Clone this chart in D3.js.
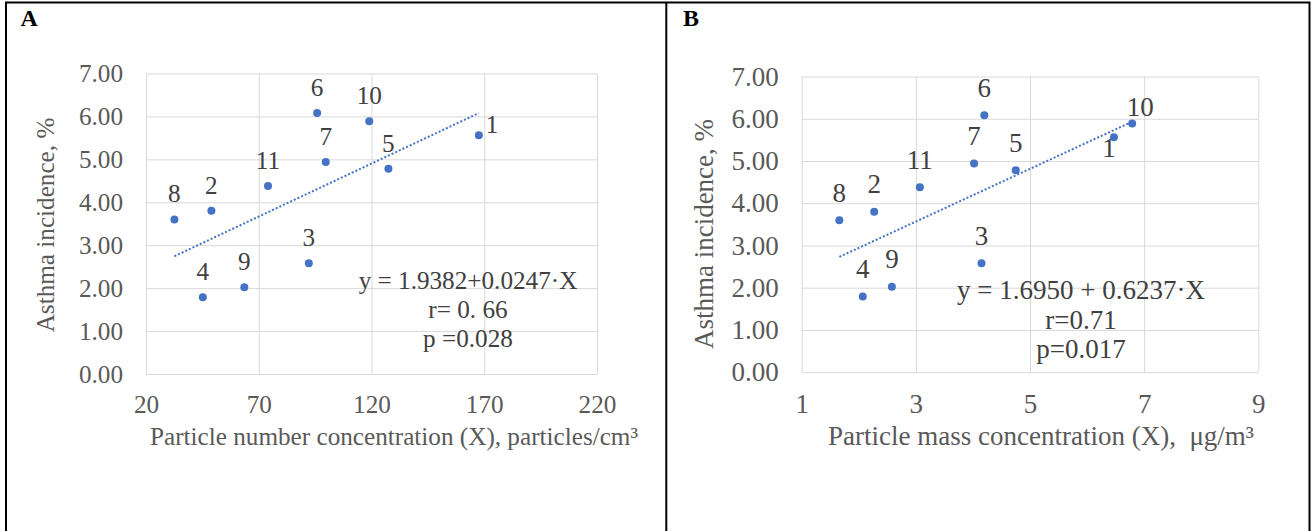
<!DOCTYPE html>
<html>
<head>
<meta charset="utf-8">
<script src="https://cdn.jsdelivr.net/npm/d3@7"></script>
<style>
  html, body { margin: 0; padding: 0; background: #fff; }
  svg { display: block; }
  svg text { white-space: pre; }
</style>
</head>
<body>
<div id="chart"></div>
<script>
// sites 1..11, same order in every array
const siteIds = ["1", "2", "3", "4", "5", "6", "7", "8", "9", "10", "11"];
const asthmaIncidence = [5.56, 3.80, 2.58, 1.79, 4.78, 6.08, 4.94, 3.60, 2.02, 5.89, 4.38];
const numberConc = [167.6, 49.0, 92.2, 45.2, 127.5, 95.9, 99.7, 32.6, 63.6, 119.0, 74.1];
const massConc = [6.47, 2.27, 4.15, 2.07, 4.75, 4.20, 4.02, 1.66, 2.58, 6.79, 3.07];

const yTicks = [0, 1, 2, 3, 4, 5, 6, 7];
const xTicksA = [20, 70, 120, 170, 220];
const xTicksB = [1, 3, 5, 7, 9];

// regression: [intercept, slope]
const fitA = [1.9382, 0.0247];
const fitB = [1.6950, 0.6237];
const statsA = ["y = 1.9382+0.0247·X", "r= 0. 66", "p =0.028"];
const statsB = ["y = 1.6950 + 0.6237·X", "r=0.71", "p=0.017"];

const width = 1313, height = 531;
const serif = "'Liberation Serif', 'Times New Roman', serif";
const blue = "#4472C4";

const svg = d3.select("#chart").append("svg")
    .attr("width", width)
    .attr("height", height);

svg.append("rect").attr("width", width).attr("height", height).attr("fill", "#fff");

// frame of the figure
svg.append("path")
    .attr("d", "M6,531 V2.5 H1309.5 V531 M666.3,2.5 V531")
    .attr("fill", "none")
    .attr("stroke", "#000")
    .attr("stroke-width", 2);

const panels = [
    {
        letter: "A", letterX: 20.5, xs: numberConc, xDomain: [20, 220], xTicks: xTicksA,
        left: 146, right: 597, top: 73.5, bottom: 374, fs: 25.2,
        fit: fitA, stats: statsA, statsX: 468, statsY: 289, statsStep: 29,
        xTitle: "Particle number concentration (X), particles/cm³", xTitleX: 394, xTitleY: 445,
        yTitleX: 54, yTitleY: 225, xLabelY: 39, labelDy: -17,
        special: { "1": { anchor: "start", dx: 7, dy: -2 } }
    },
    {
        letter: "B", letterX: 683, xs: massConc, xDomain: [1, 9], xTicks: xTicksB,
        left: 801.7, right: 1258.3, top: 76.5, bottom: 372.2, fs: 27,
        fit: fitB, stats: statsB, statsX: 1081, statsY: 299, statsStep: 29.5,
        xTitle: "Particle mass concentration (X),  μg/m³", xTitleX: 1041, xTitleY: 445,
        yTitleX: 713, yTitleY: 234, xLabelY: 40.5, labelDy: -18.5,
        special: { "1": { anchor: "middle", dx: -5, dy: 20 }, "10": { anchor: "middle", dx: 8, dy: -7 } }
    }
];

panels.forEach(p => drawPanel(p));

function drawPanel(p) {
    const x = d3.scaleLinear().domain(p.xDomain).range([p.left, p.right]);
    const y = d3.scaleLinear().domain([0, 7]).range([p.bottom, p.top]);
    const g = svg.append("g");

    // vertical grid + x tick labels
    g.append("g")
        .attr("transform", `translate(0,${p.bottom})`)
        .call(d3.axisBottom(x).tickValues(p.xTicks).tickSizeInner(-(p.bottom - p.top)).tickSizeOuter(0).tickFormat(d3.format("d")))
        .attr("font-family", serif)
        .attr("font-size", p.fs)
        .call(a => a.select(".domain").remove())
        .call(a => a.selectAll("line").attr("stroke", "#d9d9d9"))
        .call(a => a.selectAll("text").attr("y", p.xLabelY).attr("dy", null).attr("fill", "#595959"));

    // horizontal grid + y tick labels
    g.append("g")
        .attr("transform", `translate(${p.left},0)`)
        .call(d3.axisLeft(y).tickValues(yTicks).tickSizeInner(-(p.right - p.left)).tickSizeOuter(0).tickPadding(23).tickFormat(d3.format(".2f")))
        .attr("font-family", serif)
        .attr("font-size", p.fs)
        .call(a => a.select(".domain").remove())
        .call(a => a.selectAll("line").attr("stroke", "#d9d9d9"))
        .call(a => a.selectAll("text").attr("fill", "#595959"));

    const data = siteIds.map((id, i) => ({ id: id, x: p.xs[i], y: asthmaIncidence[i] }));

    // linear trend over the data range
    const ext = d3.extent(p.xs);
    const trend = ext.map(v => ({ x: v, y: p.fit[0] + p.fit[1] * v }));
    g.append("path")
        .datum(trend)
        .attr("d", d3.line().x(d => x(d.x)).y(d => y(d.y)))
        .attr("fill", "none")
        .attr("stroke", blue)
        .attr("stroke-width", 2)
        .attr("stroke-dasharray", "2,2");

    g.selectAll("circle.pt").data(data).enter().append("circle")
        .attr("class", "pt")
        .attr("cx", d => x(d.x))
        .attr("cy", d => y(d.y))
        .attr("r", 4)
        .attr("fill", blue);

    g.selectAll("text.lbl").data(data).enter().append("text")
        .attr("class", "lbl")
        .attr("font-family", serif)
        .attr("font-size", p.fs)
        .attr("fill", "#404040")
        .attr("text-anchor", d => p.special[d.id] ? p.special[d.id].anchor : "middle")
        .attr("x", d => x(d.x) + (p.special[d.id] ? p.special[d.id].dx : 0))
        .attr("y", d => y(d.y) + (p.special[d.id] ? p.special[d.id].dy : p.labelDy))
        .text(d => d.id);

    // equation box
    g.selectAll("text.stat").data(p.stats).enter().append("text")
        .attr("class", "stat")
        .attr("font-family", serif)
        .attr("font-size", p.fs)
        .attr("fill", "#404040")
        .attr("text-anchor", "middle")
        .attr("x", p.statsX)
        .attr("y", (d, i) => p.statsY + i * p.statsStep)
        .text(d => d);

    g.append("text")
        .attr("font-family", serif)
        .attr("font-size", p.fs)
        .attr("fill", "#595959")
        .attr("text-anchor", "middle")
        .attr("x", p.xTitleX)
        .attr("y", p.xTitleY)
        .text(p.xTitle);

    g.append("text")
        .attr("font-family", serif)
        .attr("font-size", p.fs)
        .attr("fill", "#595959")
        .attr("text-anchor", "middle")
        .attr("transform", `translate(${p.yTitleX},${p.yTitleY}) rotate(-90)`)
        .text("Asthma incidence, %");

    svg.append("text")
        .attr("font-family", serif)
        .attr("font-size", 24)
        .attr("font-weight", "bold")
        .attr("fill", "#000")
        .attr("x", p.letterX)
        .attr("y", 26)
        .text(p.letter);
}
</script>
</body>
</html>
